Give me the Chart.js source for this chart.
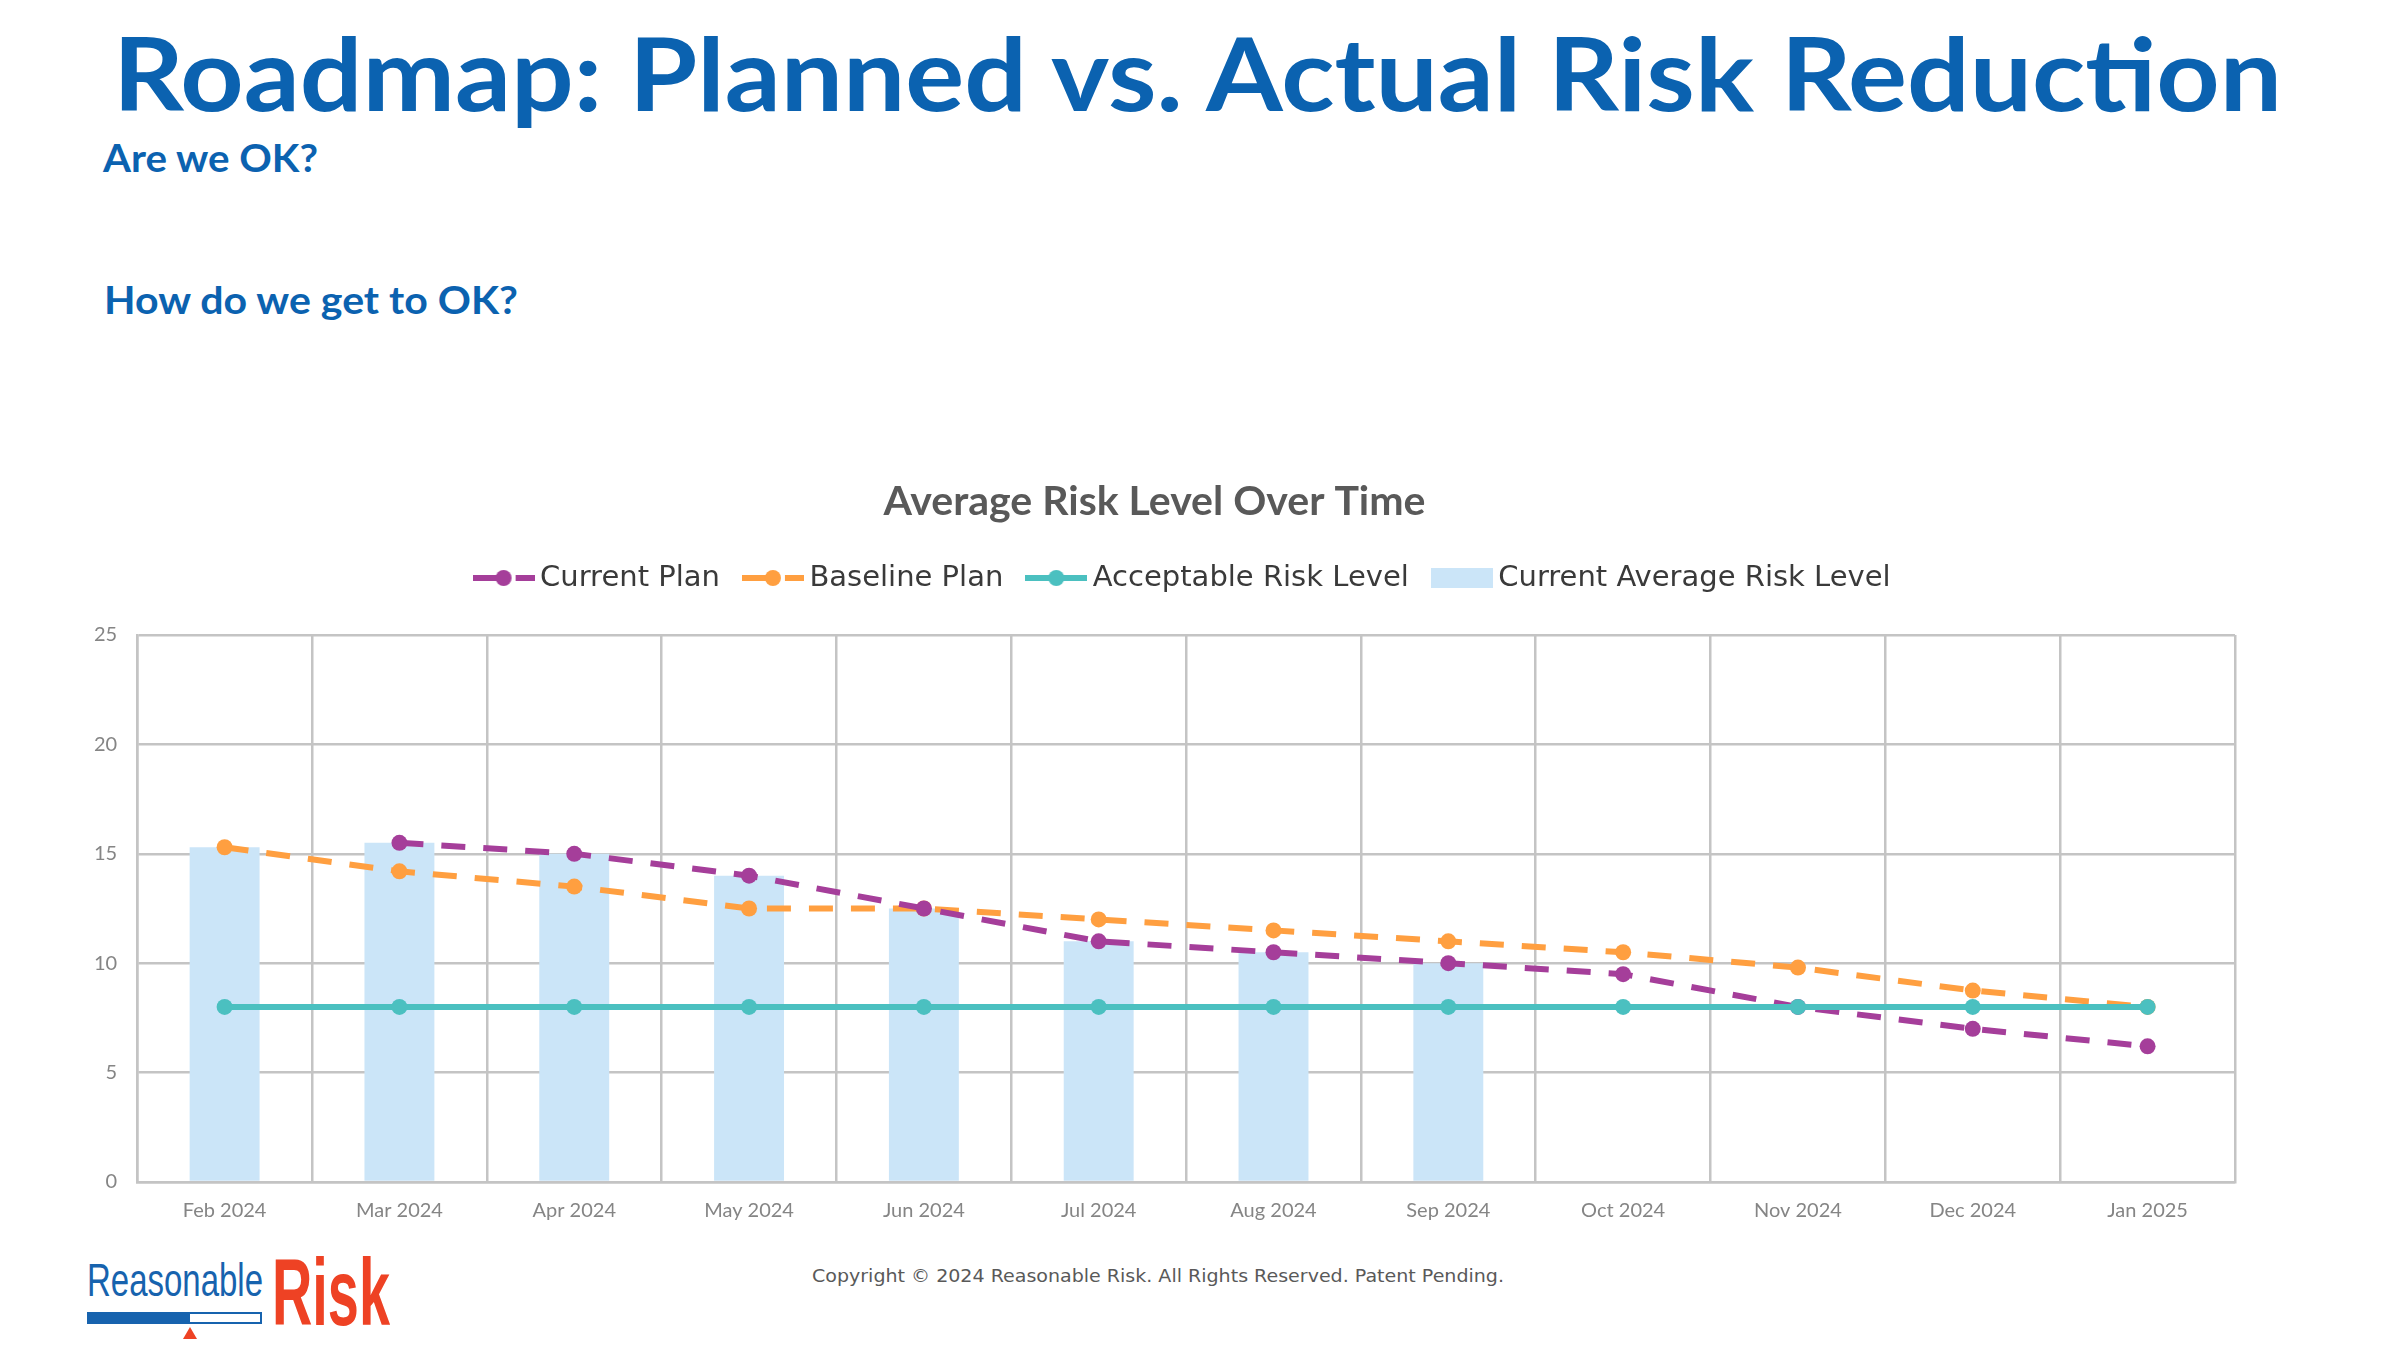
<!DOCTYPE html>
<html>
<head>
<meta charset="utf-8">
<title>Roadmap: Planned vs. Actual Risk Reduction</title>
<script src="https://cdn.jsdelivr.net/npm/chart.js@4.4.1/dist/chart.umd.min.js"></script>
<style>
  html, body { margin: 0; padding: 0; background: #fff; }
  body { width: 2400px; height: 1350px; position: relative; overflow: hidden; font-family: Lato, "Open Sans", sans-serif; }
  .fit { position: absolute; white-space: nowrap; line-height: 1; transform-origin: left top; }
  #slide-title { left: 113px; top: 21px; font-size: 102px; font-weight: 700; color: #0B62B0; }
  .question { font-size: 38px; font-weight: 700; color: #0B62B0; }
  #q1 { left: 103px; top: 138px; }
  #q2 { left: 104px; top: 280px; }
  #chart-wrap { position: absolute; left: 0; top: 440px; width: 2400px; height: 800px; }
  #copyright { left: 812px; top: 1267px; font-family: "DejaVu Sans", sans-serif; font-size: 18px; color: #595959; }
  #logo-reasonable { left: 87px; top: 1256px; font-family: "Liberation Sans Narrow", "Liberation Sans", sans-serif; font-size: 47px; color: #1763AE; }
  #logo-risk { left: 272px; top: 1245px; font-family: "Liberation Sans Narrow", "Liberation Sans", sans-serif; font-weight: 700; font-size: 95px; color: #EE4224; }
  #logo-bar { position: absolute; left: 87px; top: 1312px; width: 171px; height: 8px; border: 2.5px solid #1763AE; background: #fff; }
  #logo-bar div { width: 101px; height: 100%; background: #1763AE; }
  #logo-tip { position: absolute; left: 183px; top: 1327px; width: 0; height: 0; border-left: 7px solid transparent; border-right: 7px solid transparent; border-bottom: 12px solid #EE4224; }
</style>
</head>
<body>
<div id="slide-title" class="fit" data-w="2169">Roadmap: Planned vs. Actual Risk Reduction</div>
<div id="q1" class="fit question" data-w="215">Are we OK?</div>
<div id="q2" class="fit question" data-w="414">How do we get to OK?</div>

<div id="chart-wrap"><canvas id="risk-chart"></canvas></div>

<div id="copyright" class="fit" data-w="692">Copyright © 2024 Reasonable Risk. All Rights Reserved. Patent Pending.</div>
<div id="logo-reasonable" class="fit" data-w="176">Reasonable</div>
<div id="logo-risk" class="fit" data-w="118">Risk</div>
<div id="logo-bar"><div></div></div>
<div id="logo-tip"></div>

<script>
const months = ['Feb 2024', 'Mar 2024', 'Apr 2024', 'May 2024', 'Jun 2024', 'Jul 2024',
                'Aug 2024', 'Sep 2024', 'Oct 2024', 'Nov 2024', 'Dec 2024', 'Jan 2025'];
const currentPlan    = [null, 15.5, 15.0, 14.0, 12.5, 11.0, 10.5, 10.0, 9.5, 8.0, 7.0, 6.2];
const baselinePlan   = [15.3, 14.2, 13.5, 12.5, 12.5, 12.0, 11.5, 11.0, 10.5, 9.8, 8.75, 8.0];
const acceptableRisk = [8, 8, 8, 8, 8, 8, 8, 8, 8, 8, 8, 8];
const currentAverage = [15.3, 15.5, 15.0, 14.0, 12.5, 11.0, 10.5, 10.0, null, null, null, null];
const yTicks = [0, 5, 10, 15, 20, 25];

const purple = '#A53E9A';
const orange = '#FF9F40';
const teal = '#4BC0C0';
const barBlue = '#CBE5F8';
const gridGray = '#C4C4C4';
const tickGray = '#858585';

// squeeze the html text to the widths of the slide
function fitText() {
  document.querySelectorAll('.fit').forEach(el => {
    const w = el.getBoundingClientRect().width;
    el.style.transform = 'scaleX(' + (Number(el.dataset.w) / w) + ')';
  });
}

// legend markers like excel: line - dot - dash
function lineIcon(color, dashed) {
  const c = document.createElement('canvas');
  c.width = 62; c.height = 20;
  const g = c.getContext('2d');
  g.strokeStyle = color; g.fillStyle = color; g.lineWidth = 6;
  g.beginPath();
  if (dashed) {
    g.moveTo(0, 10); g.lineTo(31, 10);
    g.moveTo(43, 10); g.lineTo(62, 10);
  } else {
    g.moveTo(0, 10); g.lineTo(62, 10);
  }
  g.stroke();
  g.beginPath(); g.arc(31, 10, 8, 0, Math.PI * 2); g.fill();
  return c;
}
function boxIcon(color) {
  const c = document.createElement('canvas');
  c.width = 62; c.height = 20;
  const g = c.getContext('2d');
  g.fillStyle = color; g.fillRect(0, 0, 62, 20);
  return c;
}
const legendIcons = [lineIcon(purple, true), lineIcon(orange, true), lineIcon(teal, false), boxIcon(barBlue)];

// extra room between the legend and the plot
const legendGap = {
  id: 'legendGap',
  beforeLayout(chart) {
    const legend = chart.legend;
    if (!legend || legend._gapPatched) return;
    const fit = legend.fit;
    legend.fit = function () { fit.call(this); this.height += 32.5; };
    legend._gapPatched = true;
  }
};

const lineStyle = {
  type: 'line',
  borderWidth: 6,
  borderCapStyle: 'butt',
  pointRadius: 8,
  pointHoverRadius: 8,
  pointBorderWidth: 0,
  tension: 0,
  fill: false
};

function drawChart() {
  new Chart(document.getElementById('risk-chart'), {
    type: 'bar',
    data: {
      labels: months,
      datasets: [
        Object.assign({}, lineStyle, { label: 'Current Plan', data: currentPlan, borderColor: purple, backgroundColor: purple, borderDash: [24, 18], order: 1 }),
        Object.assign({}, lineStyle, { label: 'Baseline Plan', data: baselinePlan, borderColor: orange, backgroundColor: orange, borderDash: [24, 18], order: 2 }),
        Object.assign({}, lineStyle, { label: 'Acceptable Risk Level', data: acceptableRisk, borderColor: teal, backgroundColor: teal, order: 0 }),
        {
          type: 'bar',
          label: 'Current Average Risk Level',
          data: currentAverage,
          backgroundColor: barBlue,
          borderWidth: 0,
          barPercentage: 0.4,
          categoryPercentage: 1,
          order: 3
        }
      ]
    },
    options: {
      responsive: true,
      maintainAspectRatio: false,
      animation: false,
      layout: { padding: { left: 74, right: 165, top: 0, bottom: 0 } },
      plugins: {
        title: {
          display: true,
          text: 'Average Risk Level Over Time',
          color: '#595959',
          font: { family: 'Lato', size: 41, weight: 'bold' },
          padding: { top: 37.4, bottom: 5.9 }
        },
        legend: {
          display: true,
          fullSize: false,
          labels: {
            usePointStyle: true,
            pointStyleWidth: 44,
            padding: 31,
            color: '#3a3a3a',
            font: { family: 'DejaVu Sans', size: 29 },
            generateLabels: chart => chart.data.datasets.map((ds, i) => ({
              text: ds.label,
              datasetIndex: i,
              pointStyle: legendIcons[i],
              fontColor: '#3a3a3a',
              fillStyle: 'transparent',
              strokeStyle: 'transparent',
              lineWidth: 0,
              hidden: false
            }))
          }
        },
        tooltip: { enabled: false }
      },
      scales: {
        x: {
          offset: true,
          grid: { offset: true, color: gridGray, lineWidth: 2.5, drawTicks: false },
          border: { color: gridGray, width: 2.5 },
          ticks: { color: tickGray, font: { family: 'Lato', size: 20 }, padding: 17, maxRotation: 0, autoSkip: false }
        },
        y: {
          min: yTicks[0],
          max: yTicks[yTicks.length - 1],
          grid: { color: gridGray, lineWidth: 2.5, drawTicks: false },
          border: { color: gridGray, width: 2.5 },
          ticks: { stepSize: yTicks[1] - yTicks[0], color: tickGray, font: { family: 'Lato', size: 20 }, padding: 20 }
        }
      }
    },
    plugins: [legendGap]
  });
}

document.fonts.ready.then(() => {
  fitText();
  drawChart();
});
</script>
</body>
</html>
